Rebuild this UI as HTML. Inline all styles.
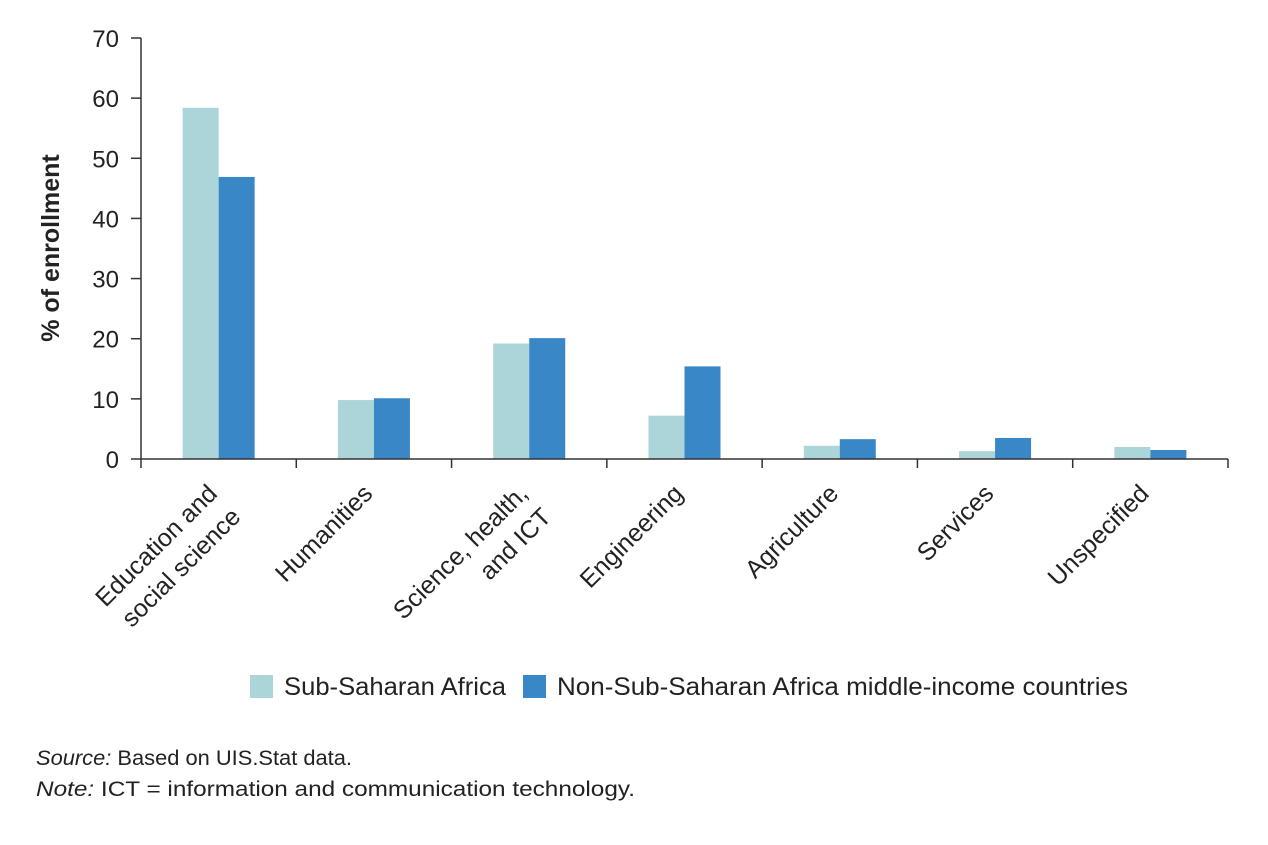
<!DOCTYPE html>
<html><head><meta charset="utf-8"><style>
body{margin:0;background:#fff;}
svg{font-family:"Liberation Sans",sans-serif;}
</style></head><body>
<svg width="1268" height="840" viewBox="0 0 1268 840" id="chart">
<text transform="translate(59,248) rotate(-90)" text-anchor="middle" font-size="25" font-weight="bold" fill="#222">% of enrollment</text>
<g id="plot"></g>
<g>
<rect x="250" y="675" width="23" height="23" fill="#acd5da"/>
<text x="284" y="695" font-size="25" fill="#222" textLength="222" lengthAdjust="spacingAndGlyphs">Sub-Saharan Africa</text>
<rect x="523" y="675" width="23" height="23" fill="#3a87c8"/>
<text x="557" y="695" font-size="25" fill="#222" textLength="571" lengthAdjust="spacingAndGlyphs">Non-Sub-Saharan Africa middle-income countries</text>
</g>
<text x="36" y="765" font-size="21" fill="#222" textLength="316" lengthAdjust="spacingAndGlyphs"><tspan font-style="italic">Source:</tspan> Based on UIS.Stat data.</text>
<text x="36" y="796" font-size="21" fill="#222" textLength="599" lengthAdjust="spacingAndGlyphs"><tspan font-style="italic">Note:</tspan> ICT = information and communication technology.</text>
</svg>
<script>
const categories=[["Education and","social science"],["Humanities"],["Science, health,","and ICT"],["Engineering"],["Agriculture"],["Services"],["Unspecified"]];
const ssa=[58.4,9.8,19.2,7.2,2.2,1.3,2.0];
const nonSsa=[46.9,10.1,20.1,15.4,3.3,3.5,1.5];
const yTicks=[0,10,20,30,40,50,60,70];
const NS="http://www.w3.org/2000/svg";
const g=document.getElementById('plot');
const x0=141,x1=1228,y0=459,y70=38;
const y=v=>y0-(v/70)*(y0-y70);
const bw=(x1-x0)/categories.length;
const cx=i=>x0+bw*(i+0.5);
function mk(t,a){const e=document.createElementNS(NS,t);for(const k in a)e.setAttribute(k,a[k]);g.appendChild(e);return e;}
yTicks.forEach(t=>{
 const l=mk('line',{x1:131,x2:x0,y1:y(t),y2:y(t),stroke:'#333','stroke-width':1.5});
 
 
 const tx=mk('text',{x:119,y:y(t)+9,'text-anchor':'end','font-size':24,fill:'#222'});
 tx.textContent=t;
 
 
});
categories.forEach((c,i)=>{
 const bwid=36;
 const b1=mk('rect',{x:cx(i)-bwid,y:y(ssa[i]),width:bwid,height:y0-y(ssa[i]),fill:'#acd5da'});
 
 
 const b2=mk('rect',{x:cx(i),y:y(nonSsa[i]),width:bwid,height:y0-y(nonSsa[i]),fill:'#3a87c8'});
 
 
 const tk=mk('line',{x1:x0+bw*i,x2:x0+bw*i,y1:y0,y2:y0+9,stroke:'#333','stroke-width':1.5});
 
 
 const t=mk('text',{transform:`translate(${cx(i)},${y0+36}) rotate(-45)`,'text-anchor':'end','font-size':25,fill:'#222'});
 
 
 c.forEach((s,j)=>{const ts=document.createElementNS(NS,'tspan');ts.setAttribute('x',0);ts.setAttribute('dy',j?33:0);ts.textContent=s;t.appendChild(ts);});
});
const last=mk('line',{x1:x1,x2:x1,y1:y0,y2:y0+9,stroke:'#333','stroke-width':1.5});


const ax=mk('line',{x1:x0,x2:x1,y1:y0,y2:y0,stroke:'#333','stroke-width':1.5});


const ay=mk('line',{x1:x0,x2:x0,y1:y70,y2:y0,stroke:'#333','stroke-width':1.5});


</script>
</body></html>
